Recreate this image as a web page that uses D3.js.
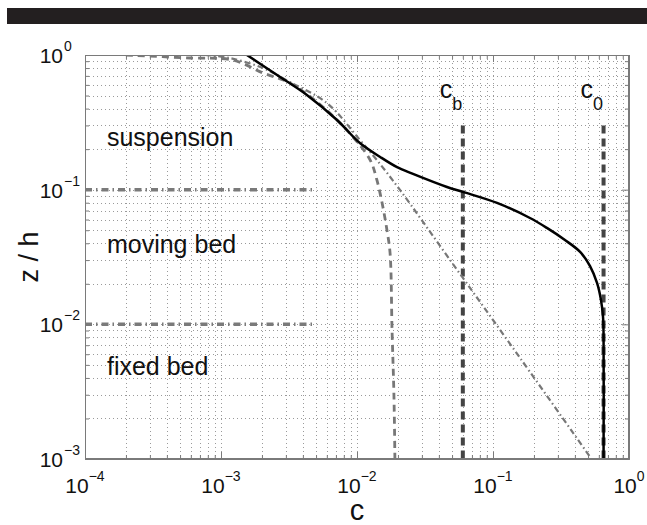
<!DOCTYPE html>
<html><head><meta charset="utf-8">
<script src="https://cdn.jsdelivr.net/npm/d3@7"></script>
<style>body{margin:0;background:#fff}svg{display:block}text{font-family:"Liberation Sans",Arial,sans-serif;fill:#111}</style>
</head><body>
<svg id="c" width="647" height="525"></svg>
<script>
// ---- data ----
const xTicks = [1e-4, 1e-3, 1e-2, 1e-1, 1];
const xTickExp = ["−4", "−3", "−2", "−1", "0"];
const yTicks = [1e-3, 1e-2, 1e-1, 1];
const yTickExp = ["−3", "−2", "−1", "0"];
// full model (solid)
const solidC = [1.55e-3, 2.72e-3, 4.28e-3, 7.13e-3, 1.05e-2, 1.48e-2, 1.97e-2, 2.58e-2, 4.59e-2, 6.0e-2, 0.107, 0.187, 0.249, 0.338, 0.437, 0.517, 0.582, 0.622, 0.644, 0.650, 0.650];
const solidZ = [1.0, 0.687, 0.505, 0.329, 0.222, 0.175, 0.147, 0.131, 0.1047, 0.0962, 0.0797, 0.0616, 0.052, 0.0423, 0.0345, 0.0271, 0.0203, 0.0152, 0.0114, 0.0084, 0.001];
// dashed curve
const dashC = [2.0e-4, 5.9e-4, 1.22e-3, 2.04e-3, 3.21e-3, 5.62e-3, 9.35e-3, 1.25e-2, 1.40e-2, 1.55e-2, 1.66e-2, 1.75e-2, 1.81e-2, 1.87e-2, 1.90e-2];
const dashZ = [1.0, 0.95, 0.918, 0.735, 0.62, 0.411, 0.246, 0.166, 0.118, 0.0744, 0.0502, 0.0339, 0.0091, 0.0029, 0.001];
// dash-dot curve
const ddC = [7.6e-4, 1.16e-3, 2.04e-3, 3.21e-3, 6.01e-3, 1.05e-2, 1.40e-2, 2.07e-2, 4.83e-2, 0.158, 0.516];
const ddZ = [1.0, 0.95, 0.80, 0.63, 0.44, 0.234, 0.166, 0.0995, 0.0301, 0.00563, 0.00104];
// layer boundaries
const boundaryZ = [0.1, 0.01];
const boundaryC = [1e-4, 5e-3];
// reference concentrations
const refNames = ["b", "0"];
const refC = [0.06, 0.65];
const refZ = [0.3, 0.001];
const regionNames = ["suspension", "moving bed", "fixed bed"];
const regionZ = [0.211, 0.0339, 0.0042];
const regionC = 1.45e-4;

// ---- layout ----
const svg = d3.select("#c");
const L = 85, R = 629, T = 55, B = 459;
const x = d3.scaleLog().domain([1e-4, 1]).range([L, R]);
const y = d3.scaleLog().domain([1e-3, 1]).range([B, T]);

svg.append("rect").attr("x", 7).attr("y", 8).attr("width", 640).attr("height", 16).attr("fill", "#231f20");

const minorX = [], minorY = [];
for (let e = -4; e < 0; e++) for (let m = 2; m <= 9; m++) minorX.push(m * Math.pow(10, e));
for (let e = -3; e < 0; e++) for (let m = 2; m <= 9; m++) minorY.push(m * Math.pow(10, e));

// grid
const grid = svg.append("g").attr("stroke", "#9a9a9a").attr("stroke-width", 1).attr("stroke-dasharray", "1,3");
grid.selectAll(".gx").data(minorX.concat(xTicks.slice(1, -1))).join("line")
  .attr("x1", d => Math.round(x(d)) + 0.5).attr("x2", d => Math.round(x(d)) + 0.5).attr("y1", T).attr("y2", B);
grid.selectAll(".gy").data(minorY.concat(yTicks.slice(1, -1))).join("line")
  .attr("y1", d => Math.round(y(d)) + 0.5).attr("y2", d => Math.round(y(d)) + 0.5).attr("x1", L).attr("x2", R);

// axes (ticks inward)
function axisStyle(g) { g.selectAll("path,line").attr("stroke", "#7a7a7a"); g.selectAll("text").remove(); }
svg.append("g").attr("transform", `translate(0,${B})`).call(d3.axisBottom(x).tickValues(xTicks).tickSize(-7).tickSizeOuter(0).tickFormat("")).call(axisStyle);
svg.append("g").attr("transform", `translate(0,${B})`).call(d3.axisBottom(x).tickValues(minorX).tickSize(-4).tickSizeOuter(0).tickFormat("")).call(axisStyle);
svg.append("g").attr("transform", `translate(0,${T})`).call(d3.axisTop(x).tickValues(xTicks).tickSize(-7).tickSizeOuter(0).tickFormat("")).call(axisStyle);
svg.append("g").attr("transform", `translate(0,${T})`).call(d3.axisTop(x).tickValues(minorX).tickSize(-4).tickSizeOuter(0).tickFormat("")).call(axisStyle);
svg.append("g").attr("transform", `translate(${L},0)`).call(d3.axisLeft(y).tickValues(yTicks).tickSize(-7).tickSizeOuter(0).tickFormat("")).call(axisStyle);
svg.append("g").attr("transform", `translate(${L},0)`).call(d3.axisLeft(y).tickValues(minorY).tickSize(-4).tickSizeOuter(0).tickFormat("")).call(axisStyle);
svg.append("g").attr("transform", `translate(${R},0)`).call(d3.axisRight(y).tickValues(yTicks).tickSize(-7).tickSizeOuter(0).tickFormat("")).call(axisStyle);
svg.append("g").attr("transform", `translate(${R},0)`).call(d3.axisRight(y).tickValues(minorY).tickSize(-4).tickSizeOuter(0).tickFormat("")).call(axisStyle);

// tick labels
xTicks.forEach((v, i) => {
  const t = svg.append("text").attr("x", x(v)).attr("y", B + 34).attr("text-anchor", "middle").attr("font-size", 21);
  t.append("tspan").text("10");
  t.append("tspan").attr("dy", -12).attr("font-size", 14).text(xTickExp[i]);
});
yTicks.forEach((v, i) => {
  svg.append("text").attr("x", 63).attr("y", y(v) + 8).attr("text-anchor", "end").attr("font-size", 21).text("10");
  svg.append("text").attr("x", 64).attr("y", y(v) - 4).attr("text-anchor", "start").attr("font-size", 14).text(yTickExp[i]);
});

// axis titles
svg.append("text").attr("transform", `translate(38,${(T + B) / 2}) rotate(-90)`).attr("text-anchor", "middle").attr("font-size", 27).text("z / h");
svg.append("text").attr("x", (L + R) / 2).attr("y", 520).attr("text-anchor", "middle").attr("font-size", 29).text("c");

// clip
svg.append("clipPath").attr("id", "clip").append("rect").attr("x", L).attr("y", T).attr("width", R - L).attr("height", B - T);
const plot = svg.append("g").attr("clip-path", "url(#clip)");
const smooth = d3.line().x(d => x(d[0])).y(d => y(d[1])).curve(d3.curveCatmullRom.alpha(0.5));
const straight = d3.line().x(d => x(d[0])).y(d => y(d[1]));

// boundaries
boundaryZ.forEach(z => {
  plot.append("path").datum(boundaryC.map(c => [c, z])).attr("d", straight)
    .attr("fill", "none").attr("stroke", "#7a7a7a").attr("stroke-width", 3.5).attr("stroke-dasharray", "7,4,1.5,4");
});
// reference verticals
refC.forEach((c, i) => {
  plot.append("path").datum(refZ.map(z => [c, z])).attr("d", straight)
    .attr("fill", "none").attr("stroke", "#444").attr("stroke-width", 4).attr("stroke-dasharray", "8,5");
  const t = svg.append("text").attr("x", x(c) - 23).attr("y", y(refZ[0]) - 27).attr("font-size", 25);
  t.append("tspan").text("c");
  t.append("tspan").attr("dy", 12).attr("font-size", 18).text(refNames[i]);
});

plot.append("path").datum(dashC.map((c, i) => [c, dashZ[i]])).attr("d", smooth)
  .attr("fill", "none").attr("stroke", "#777").attr("stroke-width", 2.8).attr("stroke-dasharray", "7,5");
plot.append("path").datum(ddC.map((c, i) => [c, ddZ[i]])).attr("d", smooth)
  .attr("fill", "none").attr("stroke", "#777").attr("stroke-width", 2.2).attr("stroke-dasharray", "6,3,1.5,3");
plot.append("path").datum(solidC.map((c, i) => [c, solidZ[i]])).attr("d", smooth)
  .attr("fill", "none").attr("stroke", "#000").attr("stroke-width", 2.5);

regionNames.forEach((n, i) => {
  svg.append("text").attr("x", x(regionC)).attr("y", y(regionZ[i])).attr("font-size", 25).text(n);
});

// box
svg.append("rect").attr("x", L + 0.5).attr("y", T + 0.5).attr("width", R - L - 1).attr("height", B - T - 1)
  .attr("fill", "none").attr("stroke", "#7a7a7a").attr("stroke-width", 1);
</script>
</body></html>
